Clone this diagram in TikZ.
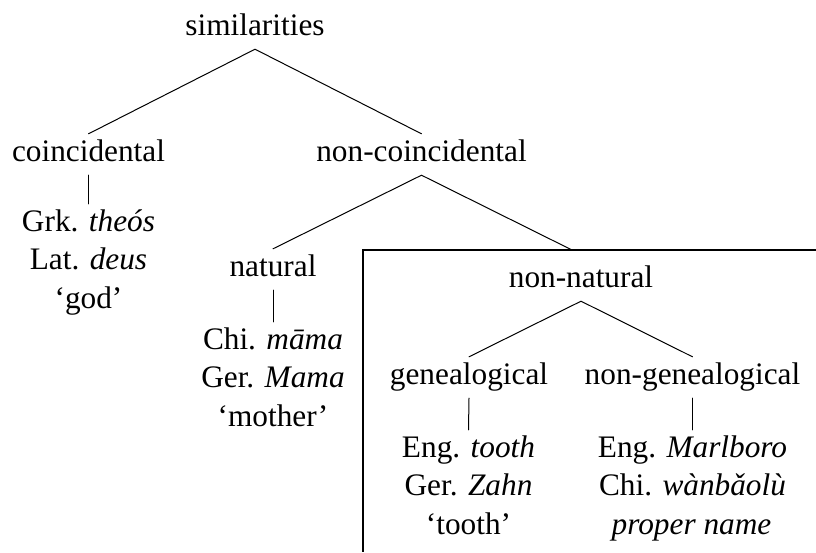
\documentclass[tikz,border=0pt]{standalone}
\usepackage{fontspec}
\setmainfont{Liberation Serif}
\newcommand{\treefont}{\fontsize{31.3pt}{38.5pt}\selectfont}
\begin{document}
\begin{tikzpicture}[x=1pt,y=-1pt,
  lbl/.style={font=\treefont, anchor=base, inner xsep=0pt, inner ysep=5pt,
              text height=22pt, text depth=9pt},
  edge/.style={line width=1pt, line cap=round},
  frame/.style={line width=1.1pt}]
\path[use as bounding box] (0,0) rectangle (816,552);

% category labels
\node[lbl] (sim)      at (255,35)    {similarities};
\node[lbl] (coinc)    at (88.5,161)  {coincidental};
\node[lbl] (noncoinc) at (421.5,161) {non-coincidental};
\node[lbl] (natural)  at (273,276)   {natural};
\node[lbl] (nonnat)   at (581,287)   {non-natural};
\node[lbl] (gen)      at (469,384)   {genealogical};
\node[lbl] (nongen)   at (692.5,384) {non-genealogical};

% examples
\node[lbl] (grk)  at (88.5,231)   {Grk. \textit{theós}};
\node[lbl] (lat)  at (88.5,269.5) {Lat. \textit{deus}};
\node[lbl] (god)  at (88.5,308)   {‘god’};

\node[lbl] (chi)    at (273,349)   {Chi. \textit{māma}};
\node[lbl] (germa)  at (273,387.5) {Ger. \textit{Mama}};
\node[lbl] (mother) at (273,426)   {‘mother’};

\node[lbl] (engt)   at (468.5,457)   {Eng. \textit{tooth}};
\node[lbl] (gerz)   at (468.5,495.5) {Ger. \textit{Zahn}};
\node[lbl] (tooth)  at (468.5,534)   {‘tooth’};

\node[lbl] (engm)   at (692.5,457)   {Eng. \textit{Marlboro}};
\node[lbl] (chiw)   at (692.5,495.5) {Chi. \textit{wànbǎolù}};
\node[lbl] (proper) at (691.5,534)   {\textit{proper name}};

% frame around the non-natural subtree
\coordinate (frameNW) at (363,250);
\coordinate (nnjoin)  at (572,250);
\draw[frame] (816,250) -- (frameNW) -- (363,552);

% branches
\draw[edge] (sim.south) -- (coinc.north);
\draw[edge] (sim.south) -- (noncoinc.north);
\draw[edge] (coinc.south) -- (grk.north);
\draw[edge] (noncoinc.south) -- (natural.north);
\draw[edge] (noncoinc.south) -- (nnjoin);
\draw[edge] (natural.south) -- (chi.north);
\draw[edge] (nonnat.south) -- (gen.north);
\draw[edge] (nonnat.south) -- (nongen.north);
\draw[edge] (gen.south) -- (engt.north);
\draw[edge] (nongen.south) -- (engm.north);
\end{tikzpicture}
\end{document}
